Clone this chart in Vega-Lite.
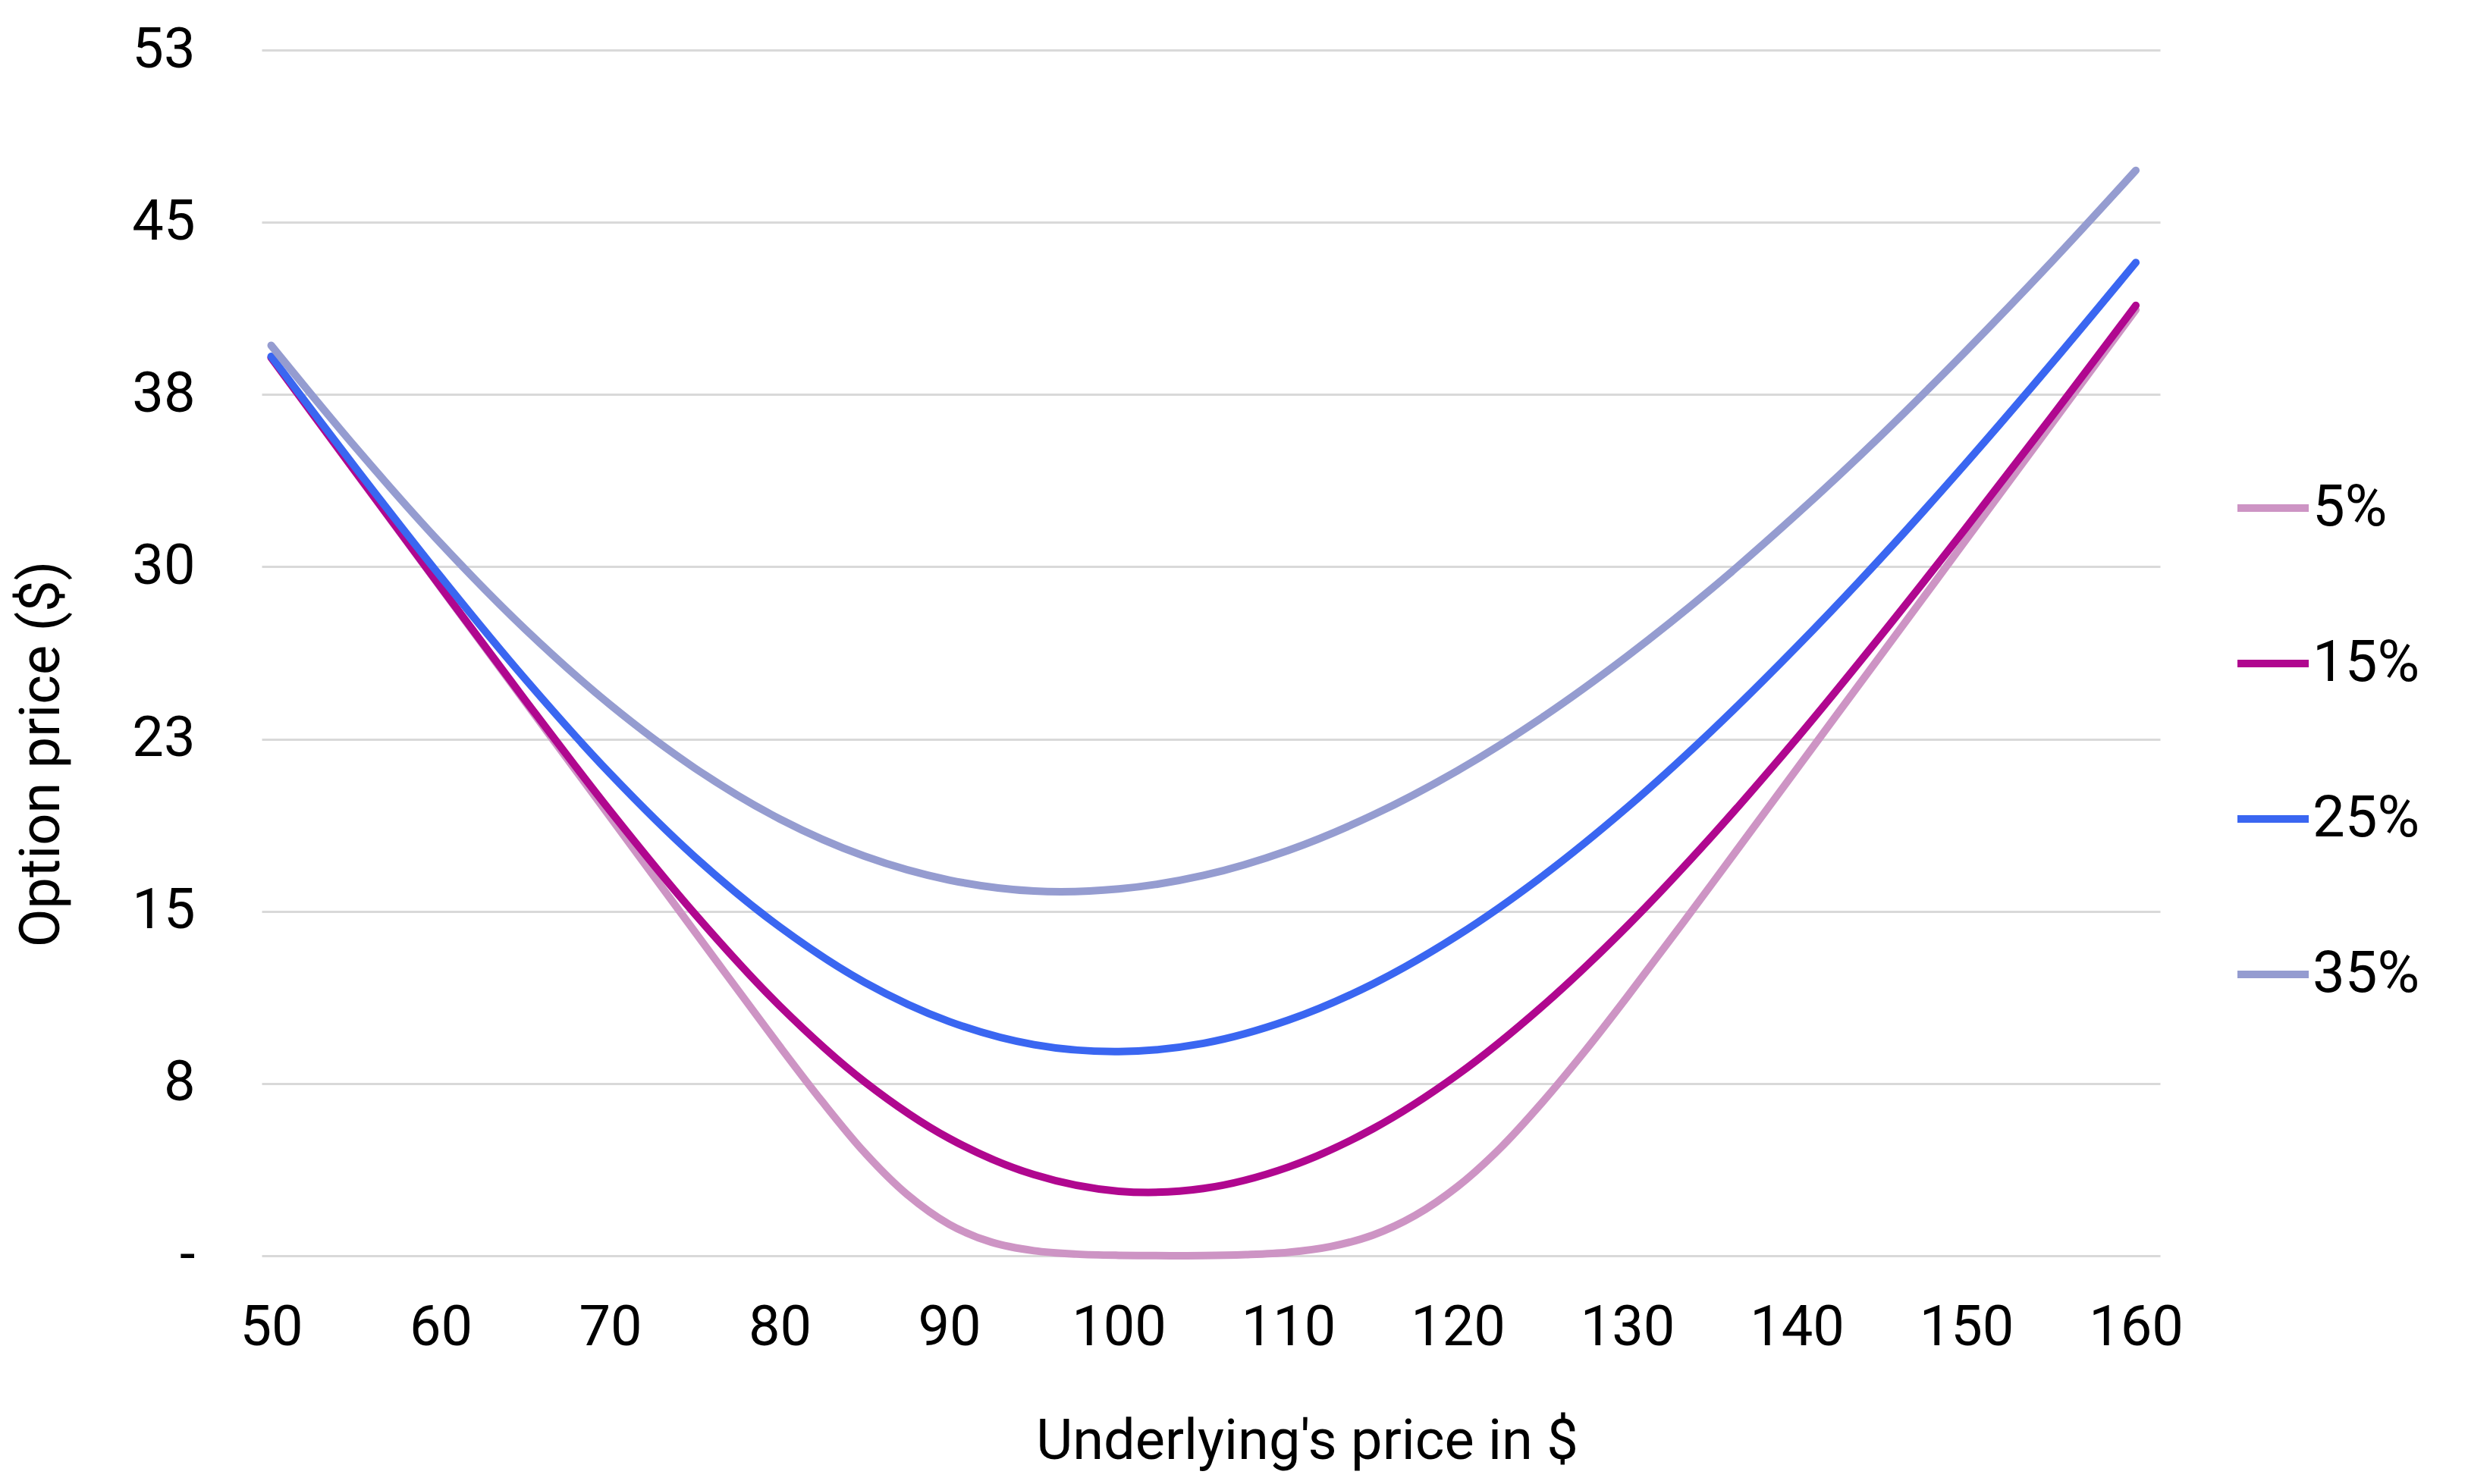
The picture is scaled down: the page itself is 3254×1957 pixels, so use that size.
{
  "$schema": "https://vega.github.io/schema/vega-lite/v6.json",
  "width": 2503,
  "height": 1590,
  "autosize": {"type": "none"},
  "padding": {"left": 345, "top": 66, "right": 406, "bottom": 301},
  "background": "#ffffff",
  "data": {
    "values": [
      {"S": 50, "vol": "5%", "price": 39.10},
      {"S": 55, "vol": "5%", "price": 34.10},
      {"S": 60, "vol": "5%", "price": 29.10},
      {"S": 65, "vol": "5%", "price": 24.10},
      {"S": 70, "vol": "5%", "price": 19.10},
      {"S": 75, "vol": "5%", "price": 14.10},
      {"S": 80, "vol": "5%", "price": 9.12},
      {"S": 82.5, "vol": "5%", "price": 6.72},
      {"S": 85, "vol": "5%", "price": 4.50},
      {"S": 87.5, "vol": "5%", "price": 2.68},
      {"S": 90, "vol": "5%", "price": 1.37},
      {"S": 92.5, "vol": "5%", "price": 0.59},
      {"S": 95, "vol": "5%", "price": 0.22},
      {"S": 97.5, "vol": "5%", "price": 0.07},
      {"S": 100, "vol": "5%", "price": 0.02},
      {"S": 105, "vol": "5%", "price": 0.01},
      {"S": 107.5, "vol": "5%", "price": 0.05},
      {"S": 110, "vol": "5%", "price": 0.15},
      {"S": 112.5, "vol": "5%", "price": 0.40},
      {"S": 115, "vol": "5%", "price": 0.90},
      {"S": 117.5, "vol": "5%", "price": 1.76},
      {"S": 120, "vol": "5%", "price": 3.02},
      {"S": 122.5, "vol": "5%", "price": 4.68},
      {"S": 125, "vol": "5%", "price": 6.69},
      {"S": 127.5, "vol": "5%", "price": 8.91},
      {"S": 130, "vol": "5%", "price": 11.28},
      {"S": 135, "vol": "5%", "price": 16.20},
      {"S": 140, "vol": "5%", "price": 21.20},
      {"S": 145, "vol": "5%", "price": 26.19},
      {"S": 150, "vol": "5%", "price": 31.19},
      {"S": 155, "vol": "5%", "price": 36.19},
      {"S": 160, "vol": "5%", "price": 41.19},

      {"S": 50, "vol": "15%", "price": 39.11},
      {"S": 55, "vol": "15%", "price": 34.11},
      {"S": 60, "vol": "15%", "price": 29.12},
      {"S": 65, "vol": "15%", "price": 24.18},
      {"S": 70, "vol": "15%", "price": 19.37},
      {"S": 75, "vol": "15%", "price": 14.88},
      {"S": 80, "vol": "15%", "price": 10.88},
      {"S": 85, "vol": "15%", "price": 7.58},
      {"S": 90, "vol": "15%", "price": 5.11},
      {"S": 95, "vol": "15%", "price": 3.53},
      {"S": 100, "vol": "15%", "price": 2.81},
      {"S": 105, "vol": "15%", "price": 2.93},
      {"S": 110, "vol": "15%", "price": 3.86},
      {"S": 115, "vol": "15%", "price": 5.53},
      {"S": 120, "vol": "15%", "price": 7.89},
      {"S": 125, "vol": "15%", "price": 10.87},
      {"S": 130, "vol": "15%", "price": 14.36},
      {"S": 135, "vol": "15%", "price": 18.28},
      {"S": 140, "vol": "15%", "price": 22.53},
      {"S": 145, "vol": "15%", "price": 27.04},
      {"S": 150, "vol": "15%", "price": 31.71},
      {"S": 155, "vol": "15%", "price": 36.50},
      {"S": 160, "vol": "15%", "price": 41.38},

      {"S": 50, "vol": "25%", "price": 39.16},
      {"S": 55, "vol": "25%", "price": 34.29},
      {"S": 60, "vol": "25%", "price": 29.57},
      {"S": 65, "vol": "25%", "price": 25.10},
      {"S": 70, "vol": "25%", "price": 20.99},
      {"S": 75, "vol": "25%", "price": 17.36},
      {"S": 80, "vol": "25%", "price": 14.32},
      {"S": 85, "vol": "25%", "price": 11.91},
      {"S": 90, "vol": "25%", "price": 10.20},
      {"S": 95, "vol": "25%", "price": 9.19},
      {"S": 100, "vol": "25%", "price": 8.89},
      {"S": 105, "vol": "25%", "price": 9.25},
      {"S": 110, "vol": "25%", "price": 10.26},
      {"S": 115, "vol": "25%", "price": 11.84},
      {"S": 120, "vol": "25%", "price": 13.95},
      {"S": 125, "vol": "25%", "price": 16.53},
      {"S": 130, "vol": "25%", "price": 19.52},
      {"S": 135, "vol": "25%", "price": 22.87},
      {"S": 140, "vol": "25%", "price": 26.52},
      {"S": 145, "vol": "25%", "price": 30.41},
      {"S": 150, "vol": "25%", "price": 34.53},
      {"S": 155, "vol": "25%", "price": 38.82},
      {"S": 160, "vol": "25%", "price": 43.25},

      {"S": 50, "vol": "35%", "price": 39.64},
      {"S": 55, "vol": "35%", "price": 35.18},
      {"S": 60, "vol": "35%", "price": 31.02},
      {"S": 65, "vol": "35%", "price": 27.27},
      {"S": 70, "vol": "35%", "price": 23.99},
      {"S": 75, "vol": "35%", "price": 21.23},
      {"S": 80, "vol": "35%", "price": 19.02},
      {"S": 85, "vol": "35%", "price": 17.40},
      {"S": 90, "vol": "35%", "price": 16.36},
      {"S": 95, "vol": "35%", "price": 15.88},
      {"S": 100, "vol": "35%", "price": 15.97},
      {"S": 105, "vol": "35%", "price": 16.56},
      {"S": 110, "vol": "35%", "price": 17.65},
      {"S": 115, "vol": "35%", "price": 19.19},
      {"S": 120, "vol": "35%", "price": 21.13},
      {"S": 125, "vol": "35%", "price": 23.45},
      {"S": 130, "vol": "35%", "price": 26.11},
      {"S": 135, "vol": "35%", "price": 29.06},
      {"S": 140, "vol": "35%", "price": 32.29},
      {"S": 145, "vol": "35%", "price": 35.74},
      {"S": 150, "vol": "35%", "price": 39.41},
      {"S": 155, "vol": "35%", "price": 43.25},
      {"S": 160, "vol": "35%", "price": 47.26}
    ]
  },
  "mark": {
    "type": "line",
    "interpolate": "catmull-rom",
    "strokeWidth": 10,
    "strokeCap": "round",
    "strokeJoin": "round"
  },
  "encoding": {
    "x": {
      "field": "S",
      "type": "quantitative",
      "scale": {"domain": [49.44, 161.43], "nice": false, "zero": false},
      "axis": {
        "values": [50, 60, 70, 80, 90, 100, 110, 120, 130, 140, 150, 160],
        "grid": false,
        "domain": false,
        "ticks": false,
        "labelFont": "Roboto",
        "labelFontSize": 74,
        "labelColor": "#000000",
        "labelBaseline": "alphabetic",
        "labelPadding": 117,
        "labelFlush": false,
        "labelOverlap": false,
        "title": "Underlying's price in $",
        "titleFont": "Roboto",
        "titleFontSize": 74,
        "titleFontWeight": "normal",
        "titleColor": "#000000",
        "titleAnchor": "middle",
        "titleAlign": "center",
        "titleBaseline": "alphabetic",
        "titleX": 1378,
        "titleY": 267
      }
    },
    "y": {
      "field": "price",
      "type": "quantitative",
      "scale": {"domain": [0, 52.5], "nice": false},
      "axis": {
        "values": [0, 7.5, 15, 22.5, 30, 37.5, 45, 52.5],
        "labelExpr": "datum.value == 0 ? '-' : format(datum.value, '.0f')",
        "grid": true,
        "gridColor": "#d9d9d9",
        "gridWidth": 3,
        "domain": false,
        "ticks": false,
        "labelFont": "Roboto",
        "labelFontSize": 74,
        "labelColor": "#000000",
        "labelPadding": 88,
        "labelFlush": false,
        "labelOverlap": false,
        "title": "Option price ($)",
        "titleFont": "Roboto",
        "titleFontSize": 74,
        "titleFontWeight": "normal",
        "titleColor": "#000000",
        "titleAngle": -90,
        "titleAlign": "center",
        "titleBaseline": "alphabetic",
        "titleX": -268,
        "titleY": 928
      }
    },
    "color": {
      "field": "vol",
      "type": "nominal",
      "scale": {
        "domain": ["5%", "15%", "25%", "35%"],
        "range": ["#cd94c4", "#b0078f", "#3a66f1", "#959cd0"]
      },
      "legend": {
        "title": null,
        "orient": "none",
        "legendX": 2600,
        "legendY": 552,
        "padding": 0,
        "symbolType": "stroke",
        "symbolSize": 8836,
        "symbolStrokeWidth": 10,
        "labelFont": "Roboto",
        "labelFontSize": 76,
        "labelColor": "#000000",
        "labelOffset": 0,
        "rowPadding": 115
      }
    },
    "order": {"field": "S", "type": "quantitative"}
  },
  "config": {
    "view": {"stroke": null}
  }
}
